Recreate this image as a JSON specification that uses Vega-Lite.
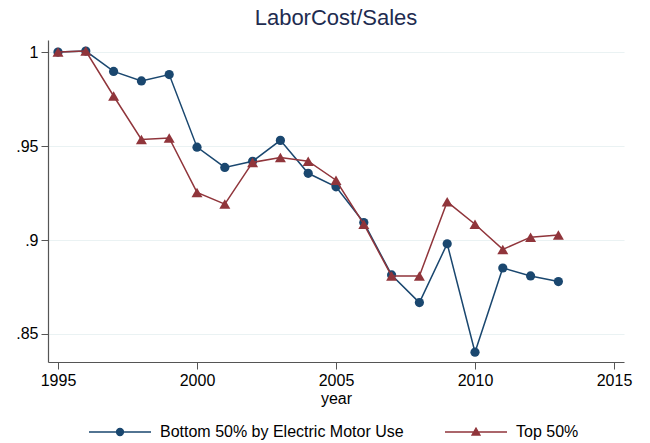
{
  "$schema": "https://vega.github.io/schema/vega-lite/v6.json",
  "autosize": {"type": "none"},
  "padding": {"left": 48, "top": 40, "right": 26, "bottom": 81},
  "width": 576,
  "height": 322,
  "background": "white",
  "title": {
    "text": "LaborCost/Sales",
    "font": "Liberation Sans",
    "fontSize": 22,
    "fontWeight": "normal",
    "color": "#1e2c50",
    "anchor": "middle",
    "offset": 10
  },
  "config": {
    "view": {"stroke": null},
    "font": "Liberation Sans"
  },
  "data": {
    "values": [
      {"year": 1995, "group": "Bottom 50% by Electric Motor Use", "value": 1.0},
      {"year": 1996, "group": "Bottom 50% by Electric Motor Use", "value": 1.0005},
      {"year": 1997, "group": "Bottom 50% by Electric Motor Use", "value": 0.9897},
      {"year": 1998, "group": "Bottom 50% by Electric Motor Use", "value": 0.9846},
      {"year": 1999, "group": "Bottom 50% by Electric Motor Use", "value": 0.988},
      {"year": 2000, "group": "Bottom 50% by Electric Motor Use", "value": 0.9494},
      {"year": 2001, "group": "Bottom 50% by Electric Motor Use", "value": 0.9386},
      {"year": 2002, "group": "Bottom 50% by Electric Motor Use", "value": 0.9419},
      {"year": 2003, "group": "Bottom 50% by Electric Motor Use", "value": 0.953},
      {"year": 2004, "group": "Bottom 50% by Electric Motor Use", "value": 0.9355},
      {"year": 2005, "group": "Bottom 50% by Electric Motor Use", "value": 0.9283},
      {"year": 2006, "group": "Bottom 50% by Electric Motor Use", "value": 0.9093},
      {"year": 2007, "group": "Bottom 50% by Electric Motor Use", "value": 0.8814},
      {"year": 2008, "group": "Bottom 50% by Electric Motor Use", "value": 0.8667},
      {"year": 2009, "group": "Bottom 50% by Electric Motor Use", "value": 0.898},
      {"year": 2010, "group": "Bottom 50% by Electric Motor Use", "value": 0.8403},
      {"year": 2011, "group": "Bottom 50% by Electric Motor Use", "value": 0.8851},
      {"year": 2012, "group": "Bottom 50% by Electric Motor Use", "value": 0.8809},
      {"year": 2013, "group": "Bottom 50% by Electric Motor Use", "value": 0.8779},
      {"year": 1995, "group": "Top 50%", "value": 1.0},
      {"year": 1996, "group": "Top 50%", "value": 1.0005},
      {"year": 1997, "group": "Top 50%", "value": 0.9766},
      {"year": 1998, "group": "Top 50%", "value": 0.9535},
      {"year": 1999, "group": "Top 50%", "value": 0.9543},
      {"year": 2000, "group": "Top 50%", "value": 0.9253},
      {"year": 2001, "group": "Top 50%", "value": 0.9191},
      {"year": 2002, "group": "Top 50%", "value": 0.9413},
      {"year": 2003, "group": "Top 50%", "value": 0.9439},
      {"year": 2004, "group": "Top 50%", "value": 0.9419},
      {"year": 2005, "group": "Top 50%", "value": 0.9318},
      {"year": 2006, "group": "Top 50%", "value": 0.9084},
      {"year": 2007, "group": "Top 50%", "value": 0.8809},
      {"year": 2008, "group": "Top 50%", "value": 0.8809},
      {"year": 2009, "group": "Top 50%", "value": 0.9203},
      {"year": 2010, "group": "Top 50%", "value": 0.9084},
      {"year": 2011, "group": "Top 50%", "value": 0.895},
      {"year": 2012, "group": "Top 50%", "value": 0.9015},
      {"year": 2013, "group": "Top 50%", "value": 0.9027}
    ]
  },
  "encoding": {
    "x": {
      "field": "year",
      "type": "quantitative",
      "scale": {"domain": [1994.64, 2015.36], "nice": false, "zero": false},
      "axis": {
        "title": "year",
        "values": [1995, 2000, 2005, 2010, 2015],
        "format": "d",
        "grid": false,
        "domainColor": "#555555",
        "domainWidth": 1.2,
        "tickColor": "#555555",
        "tickSize": 7,
        "labelPadding": 3,
        "labelFont": "Liberation Sans",
        "labelFontSize": 16,
        "labelColor": "#000000",
        "titleFont": "Liberation Sans",
        "titleFontSize": 16,
        "titleFontWeight": "normal",
        "titleColor": "#000000",
        "titlePadding": 2
      }
    },
    "y": {
      "field": "value",
      "type": "quantitative",
      "scale": {"domain": [0.8351, 1.0064], "nice": false, "zero": false},
      "axis": {
        "title": null,
        "values": [0.85, 0.9, 0.95, 1],
        "labelExpr": "replace(format(datum.value, '.2~f'), /^0/, '')",
        "grid": true,
        "gridColor": "#eaf2f3",
        "gridWidth": 1.2,
        "domainColor": "#555555",
        "domainWidth": 1.2,
        "tickColor": "#555555",
        "tickSize": 7,
        "labelPadding": 3,
        "labelFont": "Liberation Sans",
        "labelFontSize": 16,
        "labelColor": "#000000"
      }
    },
    "color": {
      "field": "group",
      "type": "nominal",
      "scale": {"domain": ["Bottom 50% by Electric Motor Use", "Top 50%"], "range": ["#1a476f", "#90353b"]},
      "legend": {
        "title": null,
        "orient": "none",
        "direction": "horizontal",
        "legendX": 64,
        "legendY": 384,
        "padding": 0,
        "symbolSize": 64,
        "labelOffset": 32,
        "labelLimit": 0,
        "columnPadding": 38,
        "labelFont": "Liberation Sans",
        "labelFontSize": 16,
        "labelColor": "#000000",
        "encode": {
          "symbols": {
            "update": {
              "shape": {"signal": "datum.value === 'Top 50%' ? 'M-7.75,0H7.75M0,-1L1,0.75L-1,0.75Z' : 'M-7.75,0H7.75M0.875,0A0.875,0.875 0 1,1 -0.875,0A0.875,0.875 0 1,1 0.875,0Z'"},
              "fill": {"signal": "datum.value === 'Top 50%' ? '#90353b' : '#1a476f'"},
              "stroke": {"signal": "datum.value === 'Top 50%' ? '#90353b' : '#1a476f'"},
              "strokeWidth": {"value": 1.3},
              "opacity": {"value": 1},
              "fillOpacity": {"value": 1},
              "strokeOpacity": {"value": 1}
            }
          }
        }
      }
    }
  },
  "layer": [
    {
      "transform": [{"filter": "datum.group === 'Bottom 50% by Electric Motor Use'"}],
      "mark": {"type": "line", "strokeWidth": 1.5}
    },
    {
      "transform": [{"filter": "datum.group === 'Bottom 50% by Electric Motor Use'"}],
      "mark": {"type": "point", "shape": "circle", "filled": true, "opacity": 1, "size": 85}
    },
    {
      "transform": [{"filter": "datum.group === 'Top 50%'"}],
      "mark": {"type": "line", "strokeWidth": 1.5}
    },
    {
      "transform": [{"filter": "datum.group === 'Top 50%'"}],
      "mark": {"type": "point", "shape": "triangle-up", "filled": true, "opacity": 1, "size": 121}
    }
  ]
}
